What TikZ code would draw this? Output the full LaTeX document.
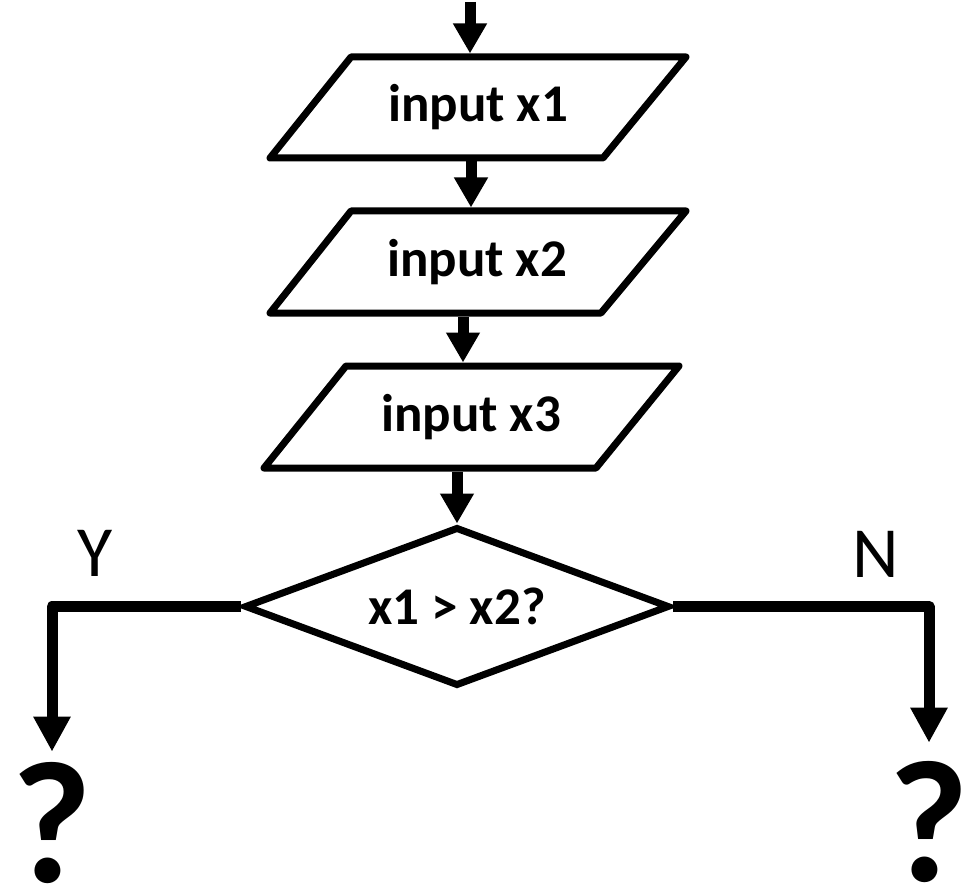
\documentclass[tikz,border=0pt]{standalone}
\usepackage{fontspec}
\setmainfont{Carlito}
\usetikzlibrary{arrows.meta,shapes.geometric}
\begin{document}
\begin{tikzpicture}[x=1pt,y=-1pt,
  shapeline/.style={line width=7pt,line join=round},
  box/.style={rectangle,inner sep=0pt,outer sep=3.5pt,minimum width=200pt,font=\bfseries\fontsize{53}{60}\selectfont},
  dec/.style={diamond,draw,line width=7pt,line join=miter,aspect=2.67,inner sep=0pt,minimum width=425pt,minimum height=159pt,font=\bfseries\fontsize{53}{60}\selectfont},
  arr/.style={line width=11pt,-{Triangle[width=32pt,length=30pt]}},
  conn/.style={line width=11pt,line join=round,-{Triangle[width=35pt,length=35pt]}},
  lbl/.style={font=\fontsize{72}{80}\selectfont,inner sep=0pt},
  qm/.style={font=\bfseries\fontsize{174}{180}\selectfont,inner sep=0pt,anchor=base}]
\useasboundingbox (0,0) rectangle (969,896);
% parallelogram outlines
\draw[shapeline] (351,57) -- (686,57) -- (603,158) -- (270,158) -- cycle;
\draw[shapeline] (351,211) -- (686,211) -- (601,313) -- (270,313) -- cycle;
\draw[shapeline] (346,366) -- (679,366) -- (596,468) -- (264,468) -- cycle;
% nodes
\coordinate (start) at (470,2);
\coordinate (a1) at (471,0);
\coordinate (a2) at (463,0);
\node[box,minimum height=101pt] (p1) at (478,107.5) {input x1};
\node[box,minimum height=102pt] (p2) at (477,262) {input x2};
\node[box,minimum height=102pt] (p3) at (471,417) {input x3};
\node[dec] (d) at (457,606.5) {x1 > x2?};
\node[lbl] (y) at (95,553) {Y};
\node[lbl] (n) at (876,554) {N};
\node[qm] (qy) at (52,882) {?};
\node[qm] (qn) at (929,881) {?};
% connectors
\draw[arr] (start) -- (start |- p1.north);
\draw[arr] (p1.south -| a1) -- (p2.north -| a1);
\draw[arr] (p2.south -| a2) -- (p3.north -| a2);
\draw[arr] (p3.south -| d.north) -- (d.north);
\draw[conn] (d.west) -| ([yshift=10pt]qy.north);
\draw[conn] (d.east) -| ([yshift=18pt]qn.north);
\end{tikzpicture}
\end{document}
